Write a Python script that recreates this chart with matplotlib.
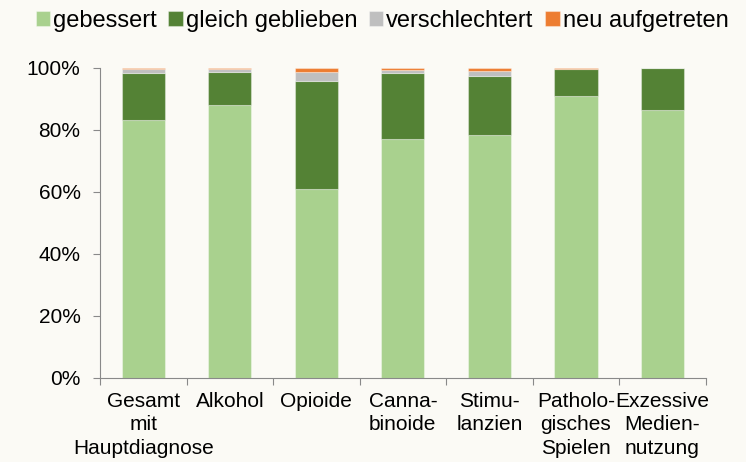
import numpy as np
import matplotlib.pyplot as plt
from matplotlib.ticker import PercentFormatter

plt.rcParams['font.family'] = ['Liberation Sans', 'DejaVu Sans']

categories = ['Gesamt\nmit', 'Alkohol', 'Opioide', 'Canna-\nbinoide',
              'Stimu-\nlanzien', 'Patholo-\ngisches\nSpielen', 'Exzessive\nMedien-\nnutzung']
gebessert = [83.2, 88.1, 61.0, 77.1, 78.4, 90.9, 86.4]
gleich = [15.0, 10.7, 34.7, 21.1, 19.0, 8.6, 13.6]
verschlechtert = [1.4, 0.9, 3.1, 1.1, 1.5, 0.0, 0.0]
neu = [0.4, 0.3, 1.2, 0.7, 1.1, 0.5, 0.0]

series = [('gebessert', gebessert, '#A9D18E'),
          ('gleich geblieben', gleich, '#548235'),
          ('verschlechtert', verschlechtert, '#BFBFBF'),
          ('neu aufgetreten', neu, '#ED7D31')]

bg = '#FBFAF5'
fig = plt.figure(figsize=(7.46, 4.62), dpi=100, facecolor=bg)
ax = fig.add_axes([0.134, 0.182, 0.812, 0.671], facecolor=bg)

x = np.arange(len(categories))
bottom = np.zeros(len(categories))
for name, vals, col in series:
    vals = np.array(vals) / 100
    ax.bar(x, vals, 0.5, bottom=bottom, color=col, label=name,
           edgecolor=(1, 1, 1, 0.35), linewidth=0.8)
    bottom += vals

ax.set_xlim(-0.5, len(categories) - 0.5)
ax.set_ylim(0, 1)
ax.yaxis.set_major_formatter(PercentFormatter(1.0, decimals=0))
ax.set_yticks(np.linspace(0, 1, 6))

ax.set_xticks(np.arange(len(categories) + 1) - 0.5)
ax.set_xticklabels([])
ax.set_xticks(x, minor=True)
ax.set_xticklabels(categories, minor=True, fontsize=15, ha='center', linespacing=1.3)
ax.tick_params(axis='x', which='major', length=5, color='#898989', direction='out')
ax.tick_params(axis='x', which='minor', length=0, pad=10)
ax.tick_params(axis='y', length=5, color='#898989', labelsize=15, pad=9)

# third line of the first label, placed on its own so it does not collide with "Alkohol"
ax.annotate('Hauptdiagnose', xy=(x[0], 0), xycoords=('data', 'axes fraction'),
            xytext=(0, -51), textcoords='offset points', ha='center', va='center',
            fontsize=15, annotation_clip=False)

for s in ['top', 'right']:
    ax.spines[s].set_visible(False)
for s in ['left', 'bottom']:
    ax.spines[s].set_color('#898989')

fig.legend(loc='upper center', bbox_to_anchor=(0.512, 1.01), ncol=4, frameon=False,
           fontsize=17, handlelength=0.6, handleheight=0.6, handletextpad=0.13,
           columnspacing=0.5, borderaxespad=0.2)

fig.savefig('out.png', dpi=100, facecolor=bg)
